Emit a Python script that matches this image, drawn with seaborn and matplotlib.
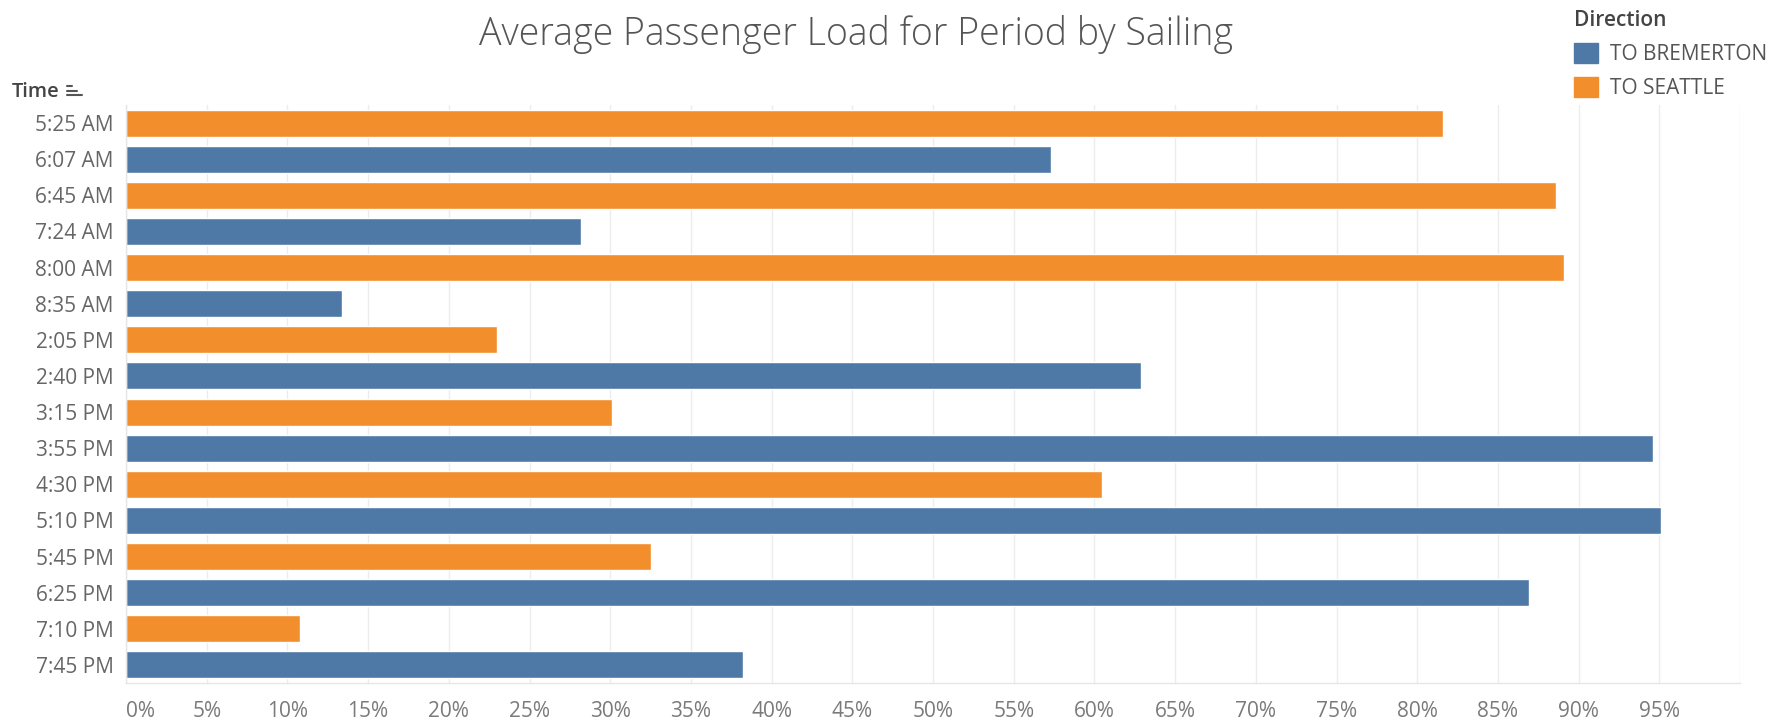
import matplotlib
matplotlib.use("Agg")
import matplotlib.pyplot as plt
import matplotlib.patches as mpatches
from matplotlib.lines import Line2D
from matplotlib.ticker import FixedLocator, FuncFormatter
import seaborn as sns
import pandas as pd

# Sailing times and direction of each sailing
times = ["5:25 AM", "6:07 AM", "6:45 AM", "7:24 AM", "8:00 AM", "8:35 AM",
         "2:05 PM", "2:40 PM", "3:15 PM", "3:55 PM", "4:30 PM", "5:10 PM",
         "5:45 PM", "6:25 PM", "7:10 PM", "7:45 PM"]
directions = ["TO SEATTLE", "TO BREMERTON", "TO SEATTLE", "TO BREMERTON",
              "TO SEATTLE", "TO BREMERTON", "TO SEATTLE", "TO BREMERTON",
              "TO SEATTLE", "TO BREMERTON", "TO SEATTLE", "TO BREMERTON",
              "TO SEATTLE", "TO BREMERTON", "TO SEATTLE", "TO BREMERTON"]
# Average passenger load (fraction of capacity)
loads = [0.816, 0.573, 0.886, 0.282, 0.891, 0.134,
         0.230, 0.629, 0.301, 0.946, 0.605, 0.951,
         0.325, 0.869, 0.108, 0.382]

direction_order = ["TO BREMERTON", "TO SEATTLE"]
direction_colors = ["#4e79a7", "#f28e2b"]
x_ticks = [i / 100 for i in range(0, 100, 5)]

df = pd.DataFrame({"Time": times, "Load": loads, "Direction": directions})

sns.set_theme(style="white")
plt.rcParams["font.family"] = ["Open Sans", "DejaVu Sans"]

W, H = 1791, 721
fig = plt.figure(figsize=(W / 100, H / 100), dpi=100)
ax = fig.add_axes([126 / W, 1 - 683 / H, (1740 - 126) / W, (683 - 105) / H])

sns.barplot(data=df, x="Load", y="Time", hue="Direction", order=times,
            hue_order=direction_order, palette=direction_colors,
            dodge=False, width=0.75, orient="h", legend=False, ax=ax,
            saturation=1)

ax.set_xlim(0, 1.0)
ax.set_ylim(len(times) - 0.5, -0.5)
ax.xaxis.set_major_locator(FixedLocator(x_ticks))
ax.xaxis.set_major_formatter(FuncFormatter(lambda v, _: f"{v * 100:.0f}%"))
ax.set_xlabel("")
ax.set_ylabel("")

# light vertical gridlines
for v in x_ticks + [1.0]:
    ax.axvline(v, color="#ececec", lw=1, zorder=0)
ax.set_axisbelow(True)

for s in ["top", "right"]:
    ax.spines[s].set_visible(False)
ax.spines["bottom"].set_color("#e6e6e6")
ax.spines["left"].set_color("#e6e6e6")
ax.spines["bottom"].set_linewidth(1)
ax.spines["left"].set_linewidth(1)

ax.tick_params(axis="x", length=0, pad=13, labelsize=15, labelcolor="#7a7a7a")
ax.tick_params(axis="y", length=0, pad=9, labelsize=15, labelcolor="#666666")
# first x label sits just right of the axis start
fig.canvas.draw()
ax.get_xticklabels()[0].set_horizontalalignment("left")

# Title
fig.text(856 / W, 1 - 35 / H, "Average Passenger Load for Period by Sailing",
         ha="center", va="center", fontsize=27, color="#555555",
         fontweight="light")

# Row header with sort glyph
fig.text(12 / W, 1 - 92 / H, "Time", ha="left", va="center", fontsize=14.5,
         color="#444444", fontweight="semibold")
for i, (x0, x1) in enumerate([(67, 72), (67, 77), (67, 82)]):
    yy = 1 - (86 + i * 4.5) / H
    fig.add_artist(Line2D([x0 / W, x1 / W], [yy, yy], color="#555555", lw=1.5))

# Legend
handles = [mpatches.Patch(color=c, label=l)
           for c, l in zip(direction_colors, direction_order)]
leg = fig.legend(handles=handles, title="Direction", loc="upper left",
                 bbox_to_anchor=(1566 / W, 1 - 2 / H), frameon=False,
                 fontsize=15, title_fontsize=15, handlelength=1.15,
                 handleheight=1.15, handletextpad=0.55, labelspacing=0.55,
                 borderaxespad=0)
leg._legend_box.align = "left"
leg.get_title().set_color("#444444")
leg.get_title().set_fontweight("semibold")
for t in leg.get_texts():
    t.set_color("#555555")

fig.savefig("out.png", dpi=100)
